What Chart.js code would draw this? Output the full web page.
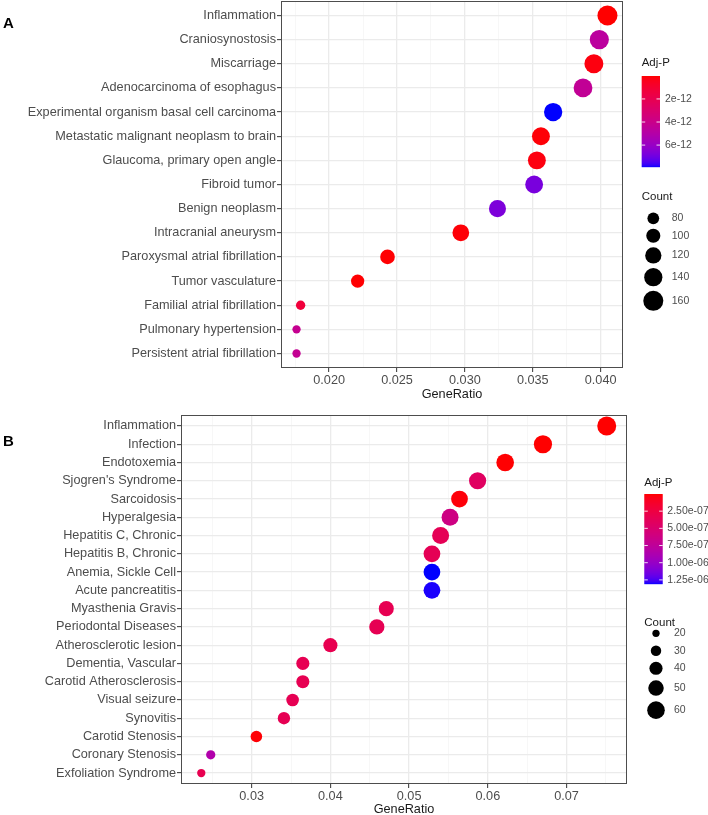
<!DOCTYPE html>
<html>
<head>
<meta charset="utf-8">
<script src="https://cdn.jsdelivr.net/npm/chart.js@4.4.1/dist/chart.umd.min.js"></script>
<style>
  html, body { margin: 0; padding: 0; background: #fff; }
  canvas { position: absolute; left: 0; display: block; }
</style>
</head>
<body>
<canvas id="chartA" width="708" height="402" style="top:0"></canvas>
<canvas id="chartB" width="708" height="417" style="top:400px"></canvas>
<script>
const FONT = '"Liberation Sans", Arial, sans-serif';

// ---- panel A data (top to bottom) ----
const labelsA = [
    "Inflammation", "Craniosynostosis", "Miscarriage", "Adenocarcinoma of esophagus",
    "Experimental organism basal cell carcinoma", "Metastatic malignant neoplasm to brain",
    "Glaucoma, primary open angle", "Fibroid tumor", "Benign neoplasm", "Intracranial aneurysm",
    "Paroxysmal atrial fibrillation", "Tumor vasculature", "Familial atrial fibrillation",
    "Pulmonary hypertension", "Persistent atrial fibrillation",
];
const ratioA = [0.0405, 0.0399, 0.0395, 0.0387, 0.0365, 0.0356, 0.0353, 0.0351, 0.0324, 0.0297, 0.0243, 0.0221, 0.0179, 0.0176, 0.0176];
const countA = [160, 150, 148, 146, 141, 137, 137, 136, 128, 125, 105, 93, 62, 55, 55];
const padjA = [1e-14, 4.7e-12, 2e-13, 4.4e-12, 7.9e-12, 1e-13, 2e-13, 6.8e-12, 6.7e-12, 1e-13, 5e-14, 3e-14, 1.3e-12, 4.2e-12, 4.3e-12];
const xTicksA = [0.020, 0.025, 0.030, 0.035, 0.040];
const padjTicksA = [2e-12, 4e-12, 6e-12];
const countBreaksA = [80, 100, 120, 140, 160];

// ---- panel B data (top to bottom) ----
const labelsB = [
    "Inflammation", "Infection", "Endotoxemia", "Sjogren's Syndrome", "Sarcoidosis", "Hyperalgesia",
    "Hepatitis C, Chronic", "Hepatitis B, Chronic", "Anemia, Sickle Cell", "Acute pancreatitis",
    "Myasthenia Gravis", "Periodontal Diseases", "Atherosclerotic lesion", "Dementia, Vascular",
    "Carotid Atherosclerosis", "Visual seizure", "Synovitis", "Carotid Stenosis",
    "Coronary Stenosis", "Exfoliation Syndrome",
];
const ratioB = [0.0751, 0.0670, 0.0622, 0.0587, 0.0564, 0.0552, 0.0540, 0.0529, 0.0529, 0.0529, 0.0471, 0.0459, 0.0400, 0.0365, 0.0365, 0.0352, 0.0341, 0.0306, 0.0248, 0.0236];
const countB = [67, 63, 60, 58, 56, 57, 57, 56, 56, 56, 48, 49, 44, 40, 40, 38, 37, 34, 26, 23];
const padjB = [1e-10, 2e-10, 5e-9, 4.2e-7, 2e-8, 6.2e-7, 3.6e-7, 3.6e-7, 1.31e-6, 1.30e-6, 3.4e-7, 3.5e-7, 3.3e-7, 3.4e-7, 3.4e-7, 3.5e-7, 3.5e-7, 1e-8, 8.5e-7, 3.3e-7];
const xTicksB = [0.03, 0.04, 0.05, 0.06, 0.07];
const padjTicksB = [2.5e-7, 5e-7, 7.5e-7, 1e-6, 1.25e-6];
const countBreaksB = [20, 30, 40, 50, 60];

// red -> blue ramp interpolated in CIELAB (like ggplot's gradient)
function toLinear(c) { c /= 255; return c <= 0.04045 ? c / 12.92 : Math.pow((c + 0.055) / 1.055, 2.4); }
function toSrgb(c) {
    c = c <= 0.0031308 ? 12.92 * c : 1.055 * Math.pow(c, 1 / 2.4) - 0.055;
    return Math.round(Math.max(0, Math.min(1, c)) * 255);
}
function rgbToLab(rgb) {
    const [r, g, b] = rgb.map(toLinear);
    const x = (0.4124 * r + 0.3576 * g + 0.1805 * b) / 0.95047;
    const y = 0.2126 * r + 0.7152 * g + 0.0722 * b;
    const z = (0.0193 * r + 0.1192 * g + 0.9505 * b) / 1.08883;
    const f = t => t > 0.008856 ? Math.cbrt(t) : 7.787 * t + 16 / 116;
    return [116 * f(y) - 16, 500 * (f(x) - f(y)), 200 * (f(y) - f(z))];
}
function labToRgb([L, a, bb]) {
    const fy = (L + 16) / 116, fx = fy + a / 500, fz = fy - bb / 200;
    const inv = t => t ** 3 > 0.008856 ? t ** 3 : (t - 16 / 116) / 7.787;
    const x = inv(fx) * 0.95047, y = inv(fy), z = inv(fz) * 1.08883;
    const r = 3.2406 * x - 1.5372 * y - 0.4986 * z;
    const g = -0.9689 * x + 1.8758 * y + 0.0415 * z;
    const b = 0.0557 * x - 0.2040 * y + 1.0570 * z;
    return [toSrgb(r), toSrgb(g), toSrgb(b)];
}
const LOW_LAB = rgbToLab([255, 0, 0]);
const HIGH_LAB = rgbToLab([0, 0, 255]);
const ramp = (t) => {
    const lab = LOW_LAB.map((v, i) => v + (HIGH_LAB[i] - v) * t);
    const [r, g, b] = labToRgb(lab);
    return `rgb(${r},${g},${b})`;
};

const fmtExp = (v, digits) => {
    const [m, e] = v.toExponential(digits).split("e");
    const n = parseInt(e, 10);
    return m + "e" + (n < 0 ? "-" : "+") + String(Math.abs(n)).padStart(2, "0");
};

const withMinor = (major) => {
    const step = major[1] - major[0];
    const vals = [major[0] - step / 2];
    major.forEach((v) => vals.push(v, v + step / 2));
    return vals;
};

function dotPlot(canvasId, cfg) {
    const n = cfg.labels.length;
    const lo = Math.min(...cfg.ratio), hi = Math.max(...cfg.ratio);
    const pad = (hi - lo) * 0.05;
    const pMin = Math.min(...cfg.padj), pMax = Math.max(...cfg.padj);
    const colorFor = (p) => ramp((p - pMin) / (pMax - pMin));
    const isMajor = (v) => cfg.xTicks.some((m) => Math.abs(m - v) < 1e-9);
    const textFont = { family: FONT, size: 12.7 };

    const panelDecor = {
        id: "panelDecor",
        afterDatasetsDraw(chart) {
            const { ctx, chartArea: a } = chart;
            ctx.save();
            ctx.strokeStyle = "#4d4d4d";
            ctx.lineWidth = 1;
            ctx.strokeRect(a.left + 0.5, a.top + 0.5, a.right - a.left - 1, a.bottom - a.top - 1);
            ctx.restore();
        },
        afterDraw(chart) {
            const ctx = chart.ctx;
            const L = cfg.legend;
            ctx.save();
            ctx.textBaseline = "middle";
            ctx.textAlign = "left";
            ctx.fillStyle = "#000";
            ctx.font = `bold 15px ${FONT}`;
            ctx.fillText(cfg.letter, 3, L.letterY);

            ctx.fillStyle = "#1a1a1a";
            ctx.font = `11.5px ${FONT}`;
            ctx.fillText("Adj-P", L.x, L.titleY);
            for (let i = 0; i < L.barH; i++) {
                ctx.fillStyle = colorFor(pMin + ((i + 0.5) / L.barH) * (pMax - pMin));
                ctx.fillRect(L.x, L.barTop + i, L.barW, 1.2);
            }
            ctx.font = `10.5px ${FONT}`;
            cfg.padjTicks.forEach((v) => {
                const y = L.barTop + ((v - pMin) / (pMax - pMin)) * L.barH;
                ctx.strokeStyle = "rgba(255,255,255,0.85)";
                ctx.lineWidth = 1;
                ctx.beginPath();
                ctx.moveTo(L.x, y); ctx.lineTo(L.x + 3.5, y);
                ctx.moveTo(L.x + L.barW - 3.5, y); ctx.lineTo(L.x + L.barW, y);
                ctx.stroke();
                ctx.fillStyle = "#4d4d4d";
                ctx.fillText(fmtExp(v, cfg.expDigits), L.labelX, y);
            });

            ctx.fillStyle = "#1a1a1a";
            ctx.font = `11.5px ${FONT}`;
            ctx.fillText("Count", L.x, L.countTitleY);
            ctx.font = `10.5px ${FONT}`;
            let y = L.firstKeyY, prevD = null;
            cfg.countBreaks.forEach((c) => {
                const d = cfg.size(c);
                if (prevD !== null) y += Math.max(17.5, (prevD + d) / 2 + L.keyPad);
                ctx.fillStyle = "#000";
                ctx.beginPath();
                ctx.arc(L.keyX, y, d / 2, 0, Math.PI * 2);
                ctx.fill();
                ctx.fillStyle = "#4d4d4d";
                ctx.fillText(String(c), L.keyLabelX, y);
                prevD = d;
            });
            ctx.restore();
        },
    };

    return new Chart(document.getElementById(canvasId), {
        type: "bubble",
        data: {
            datasets: [{
                data: cfg.ratio.map((r, i) => ({ x: r, y: n - i, r: cfg.size(cfg.count[i]) / 2 })),
                backgroundColor: cfg.padj.map(colorFor),
                borderWidth: 0,
                hoverRadius: 0,
            }],
        },
        options: {
            responsive: false,
            animation: false,
            events: [],
            layout: {
                autoPadding: false,
                padding: { left: 0, top: cfg.padTop, right: cfg.padRight, bottom: 0 },
            },
            plugins: { legend: { display: false }, tooltip: { enabled: false } },
            scales: {
                x: {
                    type: "linear",
                    min: lo - pad,
                    max: hi + pad,
                    afterBuildTicks: (s) => {
                        s.ticks = withMinor(cfg.xTicks)
                            .filter((v) => v >= s.min && v <= s.max)
                            .map((v) => ({ value: v }));
                    },
                    afterFit: (s) => {
                        s.height = cfg.xHeight;
                        s.paddingLeft = 0;
                        s.paddingRight = 0;
                    },
                    border: { display: false },
                    grid: {
                        color: (c) => (isMajor(c.tick.value) ? "#ebebeb" : "#f4f4f4"),
                        lineWidth: (c) => (isMajor(c.tick.value) ? 1.3 : 0.7),
                        tickColor: (c) => (isMajor(c.tick.value) ? "#333" : "rgba(0,0,0,0)"),
                        tickWidth: 1,
                        tickLength: 4,
                    },
                    ticks: {
                        autoSkip: false,
                        maxRotation: 0,
                        padding: 1,
                        color: "#4d4d4d",
                        font: textFont,
                        callback: (v) => (isMajor(v) ? v.toFixed(cfg.xDigits) : ""),
                    },
                    title: {
                        display: true,
                        text: "GeneRatio",
                        color: "#1a1a1a",
                        font: textFont,
                        padding: 0,
                    },
                },
                y: {
                    type: "linear",
                    min: 0.4,
                    max: n + 0.6,
                    afterBuildTicks: (s) => {
                        s.ticks = cfg.labels.map((_, i) => ({ value: i + 1 }));
                    },
                    afterFit: (s) => {
                        s.width = cfg.yWidth;
                        s.paddingTop = 0;
                        s.paddingBottom = 0;
                    },
                    border: { display: false },
                    grid: {
                        color: "#ebebeb",
                        lineWidth: 1.3,
                        tickColor: "#333",
                        tickWidth: 1,
                        tickLength: 4,
                    },
                    ticks: {
                        autoSkip: false,
                        padding: 1,
                        color: "#4d4d4d",
                        font: textFont,
                        callback: (v) => cfg.labels[n - v],
                    },
                },
            },
        },
        plugins: [panelDecor],
    });
}

dotPlot("chartA", {
    letter: "A",
    labels: labelsA, ratio: ratioA, count: countA, padj: padjA,
    xTicks: xTicksA, xDigits: 3, padjTicks: padjTicksA, expDigits: 0, countBreaks: countBreaksA,
    size: (c) => 2.24 * Math.sqrt(c) - 8.3,
    padTop: 1, padRight: 85, yWidth: 281, xHeight: 34,
    legend: {
        letterY: 24, x: 641.7, titleY: 63.3, barTop: 76, barW: 18.3, barH: 91, labelX: 665,
        countTitleY: 197, keyX: 653.3, firstKeyY: 218.3, keyLabelX: 671.7, keyPad: 4.5,
    },
});

dotPlot("chartB", {
    letter: "B",
    labels: labelsB, ratio: ratioB, count: countB, padj: padjB,
    xTicks: xTicksB, xDigits: 2, padjTicks: padjTicksB, expDigits: 2, countBreaks: countBreaksB,
    size: (c) => 3.15 * Math.sqrt(c) - 6.8,
    padTop: 15, padRight: 81, yWidth: 181, xHeight: 33,
    legend: {
        letterY: 41.7, x: 644.3, titleY: 82.7, barTop: 94, barW: 18.4, barH: 90, labelX: 667.3,
        countTitleY: 222.7, keyX: 656, firstKeyY: 233.3, keyLabelX: 674, keyPad: 5.5,
    },
});
</script>
</body>
</html>
